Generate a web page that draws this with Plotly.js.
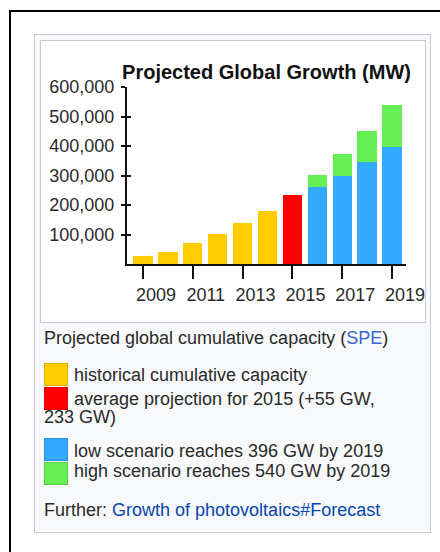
<!DOCTYPE html>
<html>
<head>
<meta charset="utf-8">
<script src="https://cdn.plot.ly/plotly-3.0.1.min.js"></script>
<style>
  html, body { margin:0; padding:0; background:#fff; width:440px; height:552px; overflow:hidden; }
  body { position:relative; font-family:"Liberation Sans", Arial, sans-serif; color:#222; }
  #frame { position:absolute; left:9px; top:10px; width:440px; height:560px; border-left:2px solid #000; border-top:2px solid #000; }
  #thumb { position:absolute; left:34px; top:34px; width:395px; height:497px; background:#f8f9fa; border:1px solid #c8ccd1; }
  #img { position:absolute; left:40px; top:40px; width:384px; height:281px; background:#fff; border:1px solid #c8ccd1; overflow:visible; }
  #chart { position:absolute; left:0; top:0; width:404px; height:281px; }
  .t { position:absolute; font-size:18px; line-height:20px; white-space:nowrap; color:#2a2a2a; }
  .sw { position:absolute; left:44px; width:24px; height:23px; }
  a { color:#3366cc; text-decoration:none; }
  a.d { color:#0645ad; }
</style>
</head>
<body>
<div id="frame"></div>
<div id="thumb"></div>
<div id="img"><div id="chart"></div></div>

<div class="t" style="left:44px; top:328px;">Projected global cumulative capacity (<a>SPE</a>)</div>
<div id="legendArea"></div>
<div class="t" style="left:44px; top:500px;">Further: <a class="d">Growth of photovoltaics#Forecast</a></div>

<script>
// ---- data ----
var years = [2009, 2010, 2011, 2012, 2013, 2014, 2015, 2016, 2017, 2018, 2019];
var historicalYears = [2009, 2010, 2011, 2012, 2013, 2014];
var historicalValues = [26000, 42000, 72000, 103000, 140000, 181000];
var projectionYears = [2015];
var projectionValues = [235000];
var scenarioYears = [2016, 2017, 2018, 2019];
var lowScenario = [262000, 300000, 347000, 397000];
var highExtra = [40000, 73000, 105000, 143000];
var tickYears = [2009, 2011, 2013, 2015, 2017, 2019];
var yTicks = [100000, 200000, 300000, 400000, 500000, 600000];
var yTickLabels = ["100,000", "200,000", "300,000", "400,000", "500,000", "600,000"];
var chartTitle = "Projected Global Growth (MW)";
var legendLabels = [
  "historical cumulative capacity",
  "average projection for 2015 (+55 GW,",
  "low scenario reaches 396 GW by 2019",
  "high scenario reaches 540 GW by 2019"
];
var colors = ["#ffcc00", "#ff0000", "#33aaff", "#66ee55"];
var borderColors = ["#e0b000", "#dd0000", "#2a90dd", "#55cc44"];

// ---- legend (HTML) ----
var la = document.getElementById('legendArea');
var swTops = [363, 387, 438, 462];
var txTops = [365, 389, 441, 461];
for (var i = 0; i < 4; i++) {
  var s = document.createElement('div');
  s.className = 'sw';
  s.style.top = swTops[i] + 'px';
  s.style.background = colors[i];
  s.style.boxShadow = 'inset 0 0 0 1px ' + borderColors[i];
  la.appendChild(s);
  var t = document.createElement('div');
  t.className = 't';
  t.style.left = '74px';
  t.style.top = txTops[i] + 'px';
  t.textContent = legendLabels[i];
  la.appendChild(t);
}
var t2 = document.createElement('div');
t2.className = 't';
t2.style.left = '44px';
t2.style.top = '407px';
t2.textContent = '233 GW)';
la.appendChild(t2);

// ---- chart ----
var barW = 0.78;
var traces = [
  {type:'bar', x:historicalYears, y:historicalValues, marker:{color:colors[0]}, width:barW},
  {type:'bar', x:projectionYears, y:projectionValues, marker:{color:colors[1]}, width:barW},
  {type:'bar', x:scenarioYears, y:lowScenario, marker:{color:colors[2]}, width:barW},
  {type:'bar', x:scenarioYears, y:highExtra, marker:{color:colors[3]}, width:barW},
  {type:'scatter', x:[years[0]], y:[0], yaxis:'y2', mode:'markers', marker:{opacity:0}, hoverinfo:'skip'}
];
var fontFam = '"Liberation Sans", Arial, sans-serif';
var layout = {
  width:404, height:281,
  margin:{l:86, r:39, t:46, b:58, pad:0},
  paper_bgcolor:'rgba(0,0,0,0)', plot_bgcolor:'rgba(0,0,0,0)',
  barmode:'stack', showlegend:false,
  title:{text:'<b>' + chartTitle + '</b>', font:{family:fontFam, size:20, color:'#111'},
         x:0.5, xref:'paper', xanchor:'center', y:0.89, yref:'container', yanchor:'middle'},
  xaxis:{range:[2008.36, 2019.56], tickvals:tickYears, ticktext:tickYears.map(String),
         ticks:'outside', ticklen:13, tickwidth:2, tickcolor:'#111',
         showline:true, linecolor:'#111', linewidth:2, showgrid:false, zeroline:false,
         tickfont:{family:fontFam, size:18, color:'#2a2a2a'}, ticklabelshift:13, ticklabelstandoff:0,
         ticklabeloverflow:'allow', fixedrange:true},
  yaxis:{range:[0, 600000], tickvals:yTicks, ticktext:yTickLabels,
         ticks:'outside', ticklen:4, tickwidth:2, tickcolor:'#111',
         showline:true, linecolor:'#111', linewidth:2, showgrid:false, zeroline:false,
         tickfont:{family:fontFam, size:18, color:'#2a2a2a'}, ticklabelstandoff:3, fixedrange:true},
  yaxis2:{range:[0, 600000], overlaying:'y', side:'left', tickvals:yTicks, showticklabels:false,
          ticks:'inside', ticklen:4, tickwidth:2, tickcolor:'#111', showline:false, showgrid:false, zeroline:false, fixedrange:true}
};
Plotly.newPlot('chart', traces, layout, {displayModeBar:false, staticPlot:true});
</script>
</body>
</html>
